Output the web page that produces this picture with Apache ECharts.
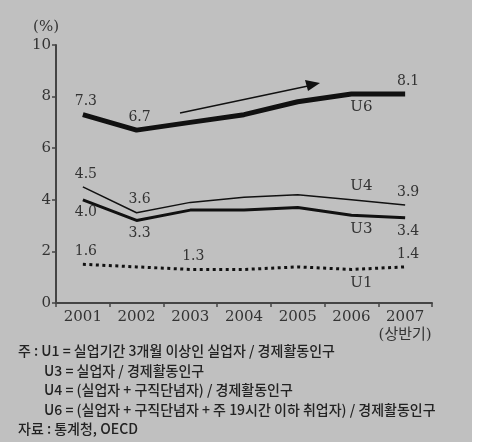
<!DOCTYPE html>
<html>
<head>
<meta charset="utf-8">
<script src="https://cdn.jsdelivr.net/npm/echarts@6/dist/echarts.min.js"></script>
<style>
  html, body { margin: 0; padding: 0; background: #fff; }
  #chart { width: 480px; height: 448px; }
</style>
</head>
<body>
<div id="chart"></div>
<script>
const years = ["2001", "2002", "2003", "2004", "2005", "2006", "2007\n(상반기)"];
const yTicks = [0, 2, 4, 6, 8, 10];

const u6 = [7.3, 6.7, 7.0, 7.3, 7.8, 8.1, 8.1];
const u4 = [4.5, 3.5, 3.9, 4.1, 4.2, 4.0, 3.8];
const u3 = [4.0, 3.2, 3.6, 3.6, 3.7, 3.4, 3.3];
const u1 = [1.5, 1.4, 1.3, 1.3, 1.4, 1.3, 1.4];

// value labels written on the chart (null = none)
const u6Labels = ["7.3", "6.7", null, null, null, null, "8.1"];
const u4Labels = ["4.5", "3.6", null, null, null, null, "3.9"];
const u3Labels = ["4.0", "3.3", null, null, null, null, "3.4"];
const u1Labels = ["1.6", null, "1.3", null, null, null, "1.4"];

const notes = [
  "주 : U1 = 실업기간 3개월 이상인 실업자 / 경제활동인구",
  "U3 = 실업자 / 경제활동인구",
  "U4 = (실업자 + 구직단념자) / 경제활동인구",
  "U6 = (실업자 + 구직단념자 + 주 19시간 이하 취업자) / 경제활동인구",
  "자료 : 통계청, OECD"
];

const serif = "'DejaVu Serif', 'Noto Sans CJK KR', serif";
const textColor = "#333";

// name label goes on the 2006 point
function buildData(values, labels, valuePos, name, namePos) {
  return values.map((v, i) => {
    const item = { value: v };
    if (labels[i]) {
      item.label = { show: true, position: valuePos[i], formatter: labels[i], distance: 6, offset: [3, 0] };
    } else if (i === 5) {
      item.label = { show: true, position: namePos, formatter: name, distance: 6, offset: [10, 0], fontSize: 15 };
    }
    return item;
  });
}

function lineSeries(name, data, width, type) {
  return {
    name: name,
    type: "line",
    data: data,
    symbol: "circle",
    symbolSize: 0,
    lineStyle: { color: "#111", width: width, type: type },
    itemStyle: { color: "#111" },
    label: { color: textColor, fontFamily: serif, fontSize: 14 },
    z: 3
  };
}

const chart = echarts.init(document.getElementById("chart"));

const option = {
  backgroundColor: "#ffffff",
  animation: false,
  grid: { left: 56, right: 48, top: 45, bottom: 145 },
  xAxis: {
    type: "category",
    data: years,
    boundaryGap: true,
    axisLine: { lineStyle: { color: "#444", width: 2 } },
    axisTick: { show: true, length: 4, interval: 0, lineStyle: { color: "#444", width: 1.5 } },
    axisLabel: {
      interval: 0, color: textColor, fontFamily: serif, fontSize: 15, margin: 5, lineHeight: 18
    }
  },
  yAxis: {
    type: "value",
    min: yTicks[0],
    max: yTicks[yTicks.length - 1],
    interval: 2,
    name: "(%)",
    nameLocation: "end",
    nameGap: 10,
    nameTextStyle: { color: textColor, fontFamily: serif, fontSize: 15, align: "right", padding: [0, -3, 0, 0] },
    axisLine: { show: true, lineStyle: { color: "#444", width: 2 } },
    axisTick: { show: true, length: 4, lineStyle: { color: "#444", width: 1.5 } },
    splitLine: { show: false },
    axisLabel: { color: textColor, fontFamily: serif, fontSize: 15, margin: 5 }
  },
  graphic: [
    { type: "rect", z: -10, shape: { x: 0, y: 0, width: 472, height: 442 }, style: { fill: "#c0c0c0" } },
    // trend arrow
    { type: "line", z: 5, shape: { x1: 180, y1: 113, x2: 308, y2: 86 }, style: { stroke: "#111", lineWidth: 1.3 } },
    { type: "polygon", z: 5, shape: { points: [[320, 83], [305, 80], [308, 91]] }, style: { fill: "#111" } }
  ].concat(notes.map((t, i) => ({
    type: "text",
    z: 5,
    left: (i === 0 || i === 4) ? 18 : 44,
    top: 344 + i * 19.5,
    style: { text: t, fill: "#222", font: "500 14px 'Noto Sans CJK KR', sans-serif" }
  }))),
  series: [
    lineSeries("U6", buildData(u6, u6Labels, ["top", "top", "", "", "", "", "top"], "U6", "bottom"), 5, "solid"),
    lineSeries("U4", buildData(u4, u4Labels, ["top", "top", "", "", "", "", "top"], "U4", "top"), 1.5, "solid"),
    lineSeries("U3", buildData(u3, u3Labels, ["bottom", "bottom", "", "", "", "", "bottom"], "U3", "bottom"), 3, "solid"),
    lineSeries("U1", buildData(u1, u1Labels, ["top", "", "top", "", "", "", "top"], "U1", "bottom"), 3, [3, 3.5])
  ]
};

chart.setOption(option);
</script>
</body>
</html>
